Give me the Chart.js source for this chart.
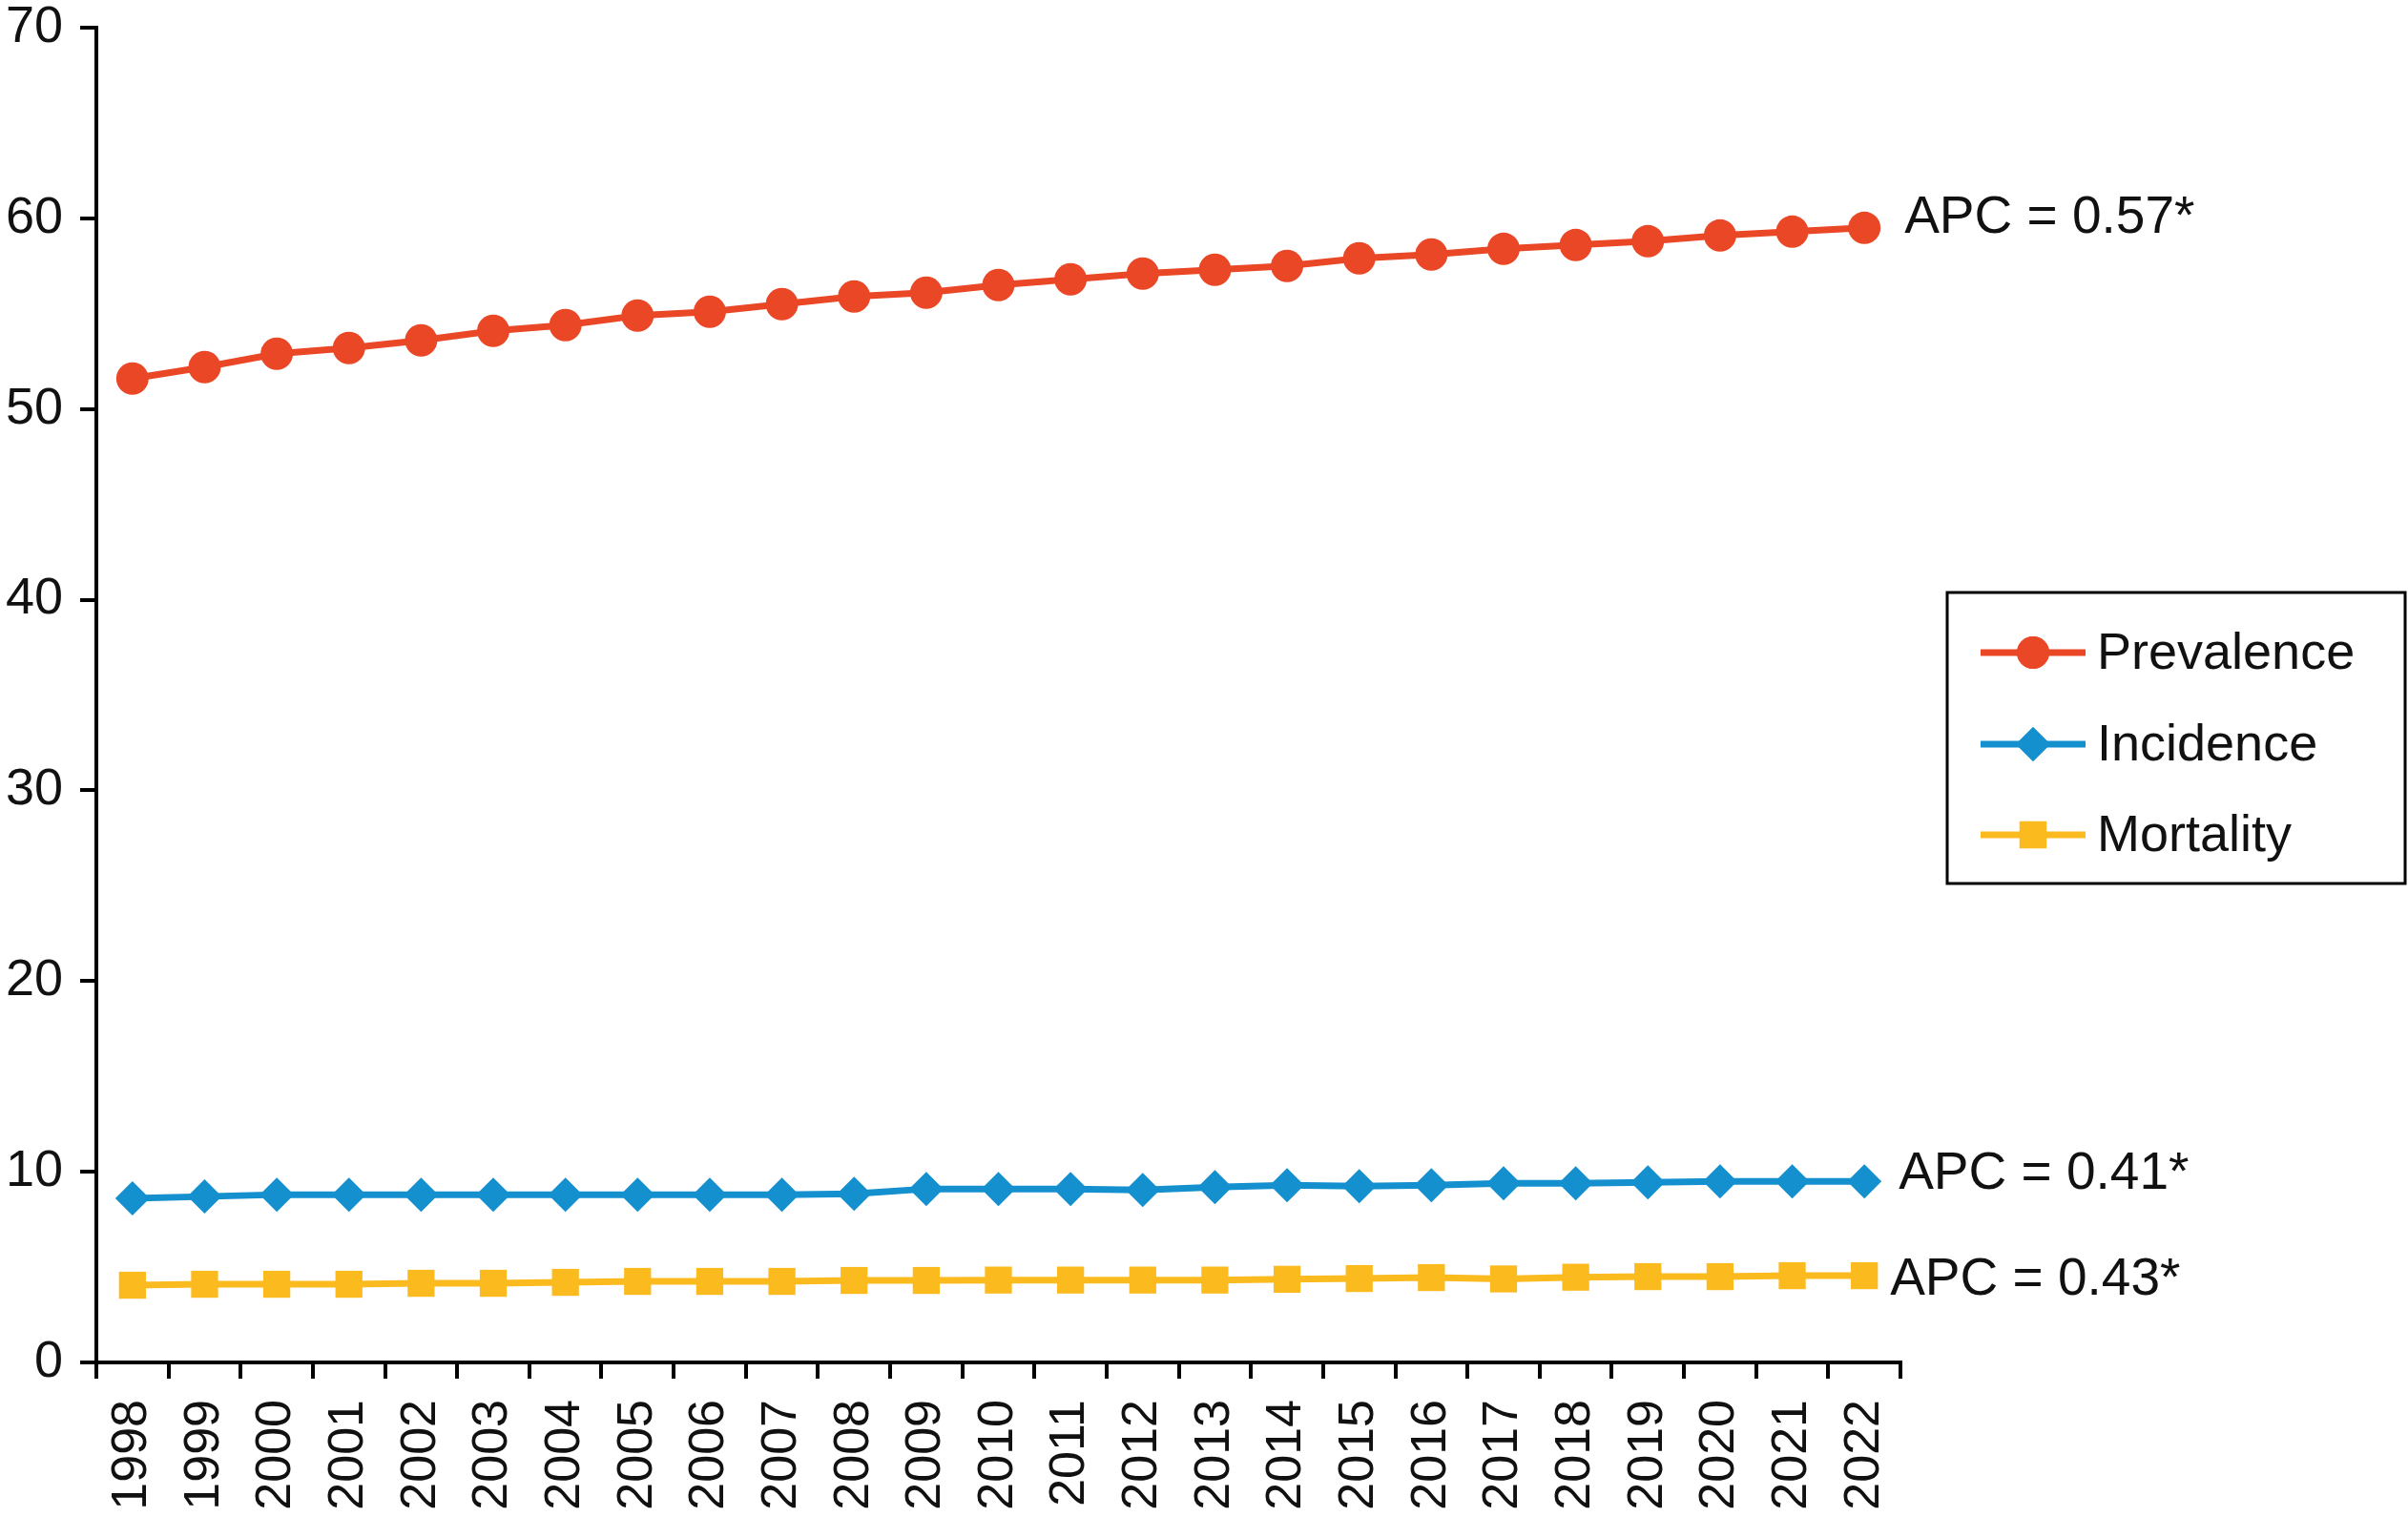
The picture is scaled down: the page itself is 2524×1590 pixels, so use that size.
<!DOCTYPE html>
<html lang="en">
<head>
  <meta charset="UTF-8">
  <script src="https://cdn.jsdelivr.net/npm/chart.js"></script>
  <title>Prevalence, incidence and mortality</title>
  <style>
    html, body { margin: 0; padding: 0; background: #fff; }
    .grafico { width: 2524px; height: 1590px; }
  </style>
</head>
<body>
  <div class="grafico">
    <canvas id="myChart"></canvas>
  </div>

<script>
const years = ['1998', '1999', '2000', '2001', '2002', '2003', '2004', '2005', '2006', '2007', '2008', '2009',
  '2010', '2011', '2012', '2013', '2014', '2015', '2016', '2017', '2018', '2019', '2020', '2021', '2022'];
const prevalence = [51.6, 52.2, 52.9, 53.2, 53.6, 54.1, 54.4, 54.9, 55.1, 55.5, 55.9, 56.1,
  56.5, 56.8, 57.1, 57.3, 57.5, 57.9, 58.1, 58.4, 58.6, 58.8, 59.1, 59.3, 59.5];
const incidence = [8.6, 8.7, 8.8, 8.8, 8.8, 8.8, 8.8, 8.8, 8.8, 8.8, 8.85, 9.1,
  9.1, 9.1, 9.05, 9.2, 9.3, 9.25, 9.3, 9.4, 9.4, 9.45, 9.5, 9.5, 9.5];
const mortality = [4.05, 4.1, 4.1, 4.1, 4.15, 4.15, 4.2, 4.25, 4.25, 4.25, 4.3, 4.3,
  4.32, 4.32, 4.32, 4.32, 4.36, 4.4, 4.45, 4.38, 4.47, 4.5, 4.5, 4.55, 4.55];
const seriesNames = ['Prevalence', 'Incidence', 'Mortality'];
const apcLabels = ['APC = 0.57*', 'APC = 0.41*', 'APC = 0.43*'];
const yTicks = [0, 10, 20, 30, 40, 50, 60, 70];

const FONT = '"Liberation Sans", Arial, sans-serif';
const colors = ['#EA4726', '#1590CF', '#FBBA1E'];
const styles = ['circle', 'rectRot', 'rect'];
const radii = [17, 18, 20];

// APC text next to the last point of every line
const apcPlugin = {
  id: 'apc',
  afterDatasetsDraw(chart) {
    const ctx = chart.ctx;
    const xs = chart.scales.x, ys = chart.scales.y;
    const last = years.length - 1;
    const shift = [[42, 5], [36, 8], [27, 20]];
    ctx.save();
    ctx.font = '55px ' + FONT;
    ctx.fillStyle = '#111';
    ctx.textBaseline = 'alphabetic';
    chart.data.datasets.forEach((ds, i) => {
      const px = xs.getPixelForValue(last) + shift[i][0];
      const py = ys.getPixelForValue(ds.data[last]) + shift[i][1];
      ctx.fillText(apcLabels[i], px, py);
    });
    ctx.restore();
  }
};

// boxed legend with line + marker
const boxLegend = {
  id: 'boxLegend',
  afterDraw(chart) {
    const ctx = chart.ctx;
    const left = 2041, top = 621, right = 2521, bottom = 926;
    ctx.save();
    ctx.strokeStyle = '#000';
    ctx.lineWidth = 3;
    ctx.strokeRect(left, top, right - left, bottom - top);
    const rows = [684, 780, 875];
    chart.data.datasets.forEach((ds, i) => {
      const y = rows[i];
      ctx.strokeStyle = ds.borderColor;
      ctx.lineWidth = 7;
      ctx.beginPath();
      ctx.moveTo(2076, y);
      ctx.lineTo(2186, y);
      ctx.stroke();
      ctx.fillStyle = ds.borderColor;
      Chart.helpers.drawPoint(ctx, { pointStyle: styles[i], radius: radii[i], borderWidth: 0 }, 2131, y);
      ctx.fill();
      ctx.fillStyle = '#111';
      ctx.font = '54px ' + FONT;
      ctx.textBaseline = 'middle';
      ctx.fillText(ds.label, 2198, y + 2);
    });
    ctx.restore();
  }
};

function makeSet(i, values) {
  return {
    label: seriesNames[i],
    data: values,
    borderColor: colors[i],
    backgroundColor: colors[i],
    pointBackgroundColor: colors[i],
    pointBorderColor: colors[i],
    pointBorderWidth: 0,
    pointStyle: styles[i],
    pointRadius: radii[i],
    pointHoverRadius: radii[i],
    borderWidth: 7,
    tension: 0,
    fill: false
  };
}

const ctx = document.getElementById('myChart');
new Chart(ctx, {
  type: 'line',
  data: {
    labels: years,
    datasets: [makeSet(0, prevalence), makeSet(1, incidence), makeSet(2, mortality)]
  },
  options: {
    responsive: true,
    maintainAspectRatio: false,
    devicePixelRatio: 1,
    animation: false,
    layout: { padding: { top: 29, right: 532, left: 0, bottom: 0 } },
    plugins: {
      legend: { display: false },
      tooltip: { enabled: false }
    },
    scales: {
      x: {
        offset: true,
        grid: { offset: true, drawOnChartArea: false, color: '#000', lineWidth: 4, tickLength: 17 },
        border: { color: '#000', width: 4 },
        ticks: {
          color: '#111', font: { family: FONT, size: 52 },
          maxRotation: 90, minRotation: 90, padding: 22, autoSkip: false
        },
        afterFit(scale) { scale.height = 162; scale.paddingLeft = 0; scale.paddingRight = 0; }
      },
      y: {
        min: 0,
        max: 70,
        afterBuildTicks(scale) { scale.ticks = yTicks.map(v => ({ value: v })); },
        grid: { drawOnChartArea: false, color: '#000', lineWidth: 4, tickLength: 17 },
        border: { color: '#000', width: 4 },
        ticks: { color: '#111', font: { family: FONT, size: 54 }, padding: 18 },
        afterFit(scale) { scale.width = 101; scale.paddingTop = 0; scale.paddingBottom = 0; }
      }
    }
  },
  plugins: [apcPlugin, boxLegend]
});
</script>
</body>
</html>
